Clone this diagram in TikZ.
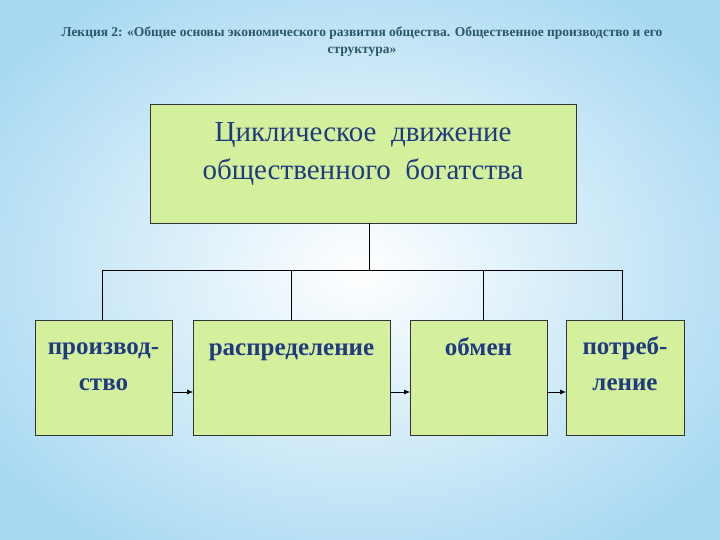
\documentclass[tikz,border=0pt]{standalone}
\usepackage{fontspec}
\setmainfont{Liberation Serif}
\definecolor{boxfill}{HTML}{D4F09C}
\definecolor{txt}{HTML}{1F3A80}
\definecolor{ttl}{HTML}{2A5868}
\definecolor{bgblue}{HTML}{A9D9F2}
\usetikzlibrary{arrows.meta}
\begin{document}
\begin{tikzpicture}[x=1pt,y=-1pt,
  box/.style={draw=black!80,fill=boxfill,line width=0.6pt},
  lbl/.style={text=txt,font=\bfseries\fontsize{25}{36}\selectfont,align=center,anchor=base},
  ln/.style={line width=0.6pt},
  arr/.style={ln,-{Latex[length=6pt,width=5pt]}}]
\useasboundingbox (0,0) rectangle (720,540);
\shade[inner color=white,outer color=bgblue] (-80,-60) rectangle (800,600);
\node[text=ttl,font=\bfseries\fontsize{13.5}{17}\selectfont,align=center] (title) at (362,42)
 {Лекция 2: «Общие основы экономического развития общества. Общественное производство и его\\структура»};
\path[box] (150,104) rectangle (576,223);
\node[text=txt,font=\fontsize{29}{38}\selectfont,align=center,anchor=base] (top) at (363,180) {Циклическое\ \ движение\\общественного\ \ богатства};
\path[box] (35,320) rectangle (172,435);
\path[box] (193,320) rectangle (390,435);
\path[box] (410,320) rectangle (547,435);
\path[box] (566,320) rectangle (684,435);
\coordinate (b1) at (102,320); \coordinate (b2) at (291,320);
\coordinate (b3) at (483,320); \coordinate (b4) at (622,320);
\coordinate (tb) at (369,223); \coordinate (hub) at (369,270);
\node[lbl] (n1) at (103.5,390) {производ-\\ство};
\node[lbl] (n2) at (291.5,355) {распределение};
\node[lbl] (n3) at (478.5,355) {обмен};
\node[lbl] (n4) at (625,390) {потреб-\\ление};
\draw[ln] (tb) -- (hub);
\draw[ln] (102,270) -- (622,270);
\foreach \b in {b1,b2,b3,b4} \draw[ln] (\b |- hub) -- (\b);
\draw[arr] (172,392) -- (193,392);
\draw[arr] (390,392) -- (410,392);
\draw[arr] (547,392) -- (566,392);
\end{tikzpicture}
\end{document}
